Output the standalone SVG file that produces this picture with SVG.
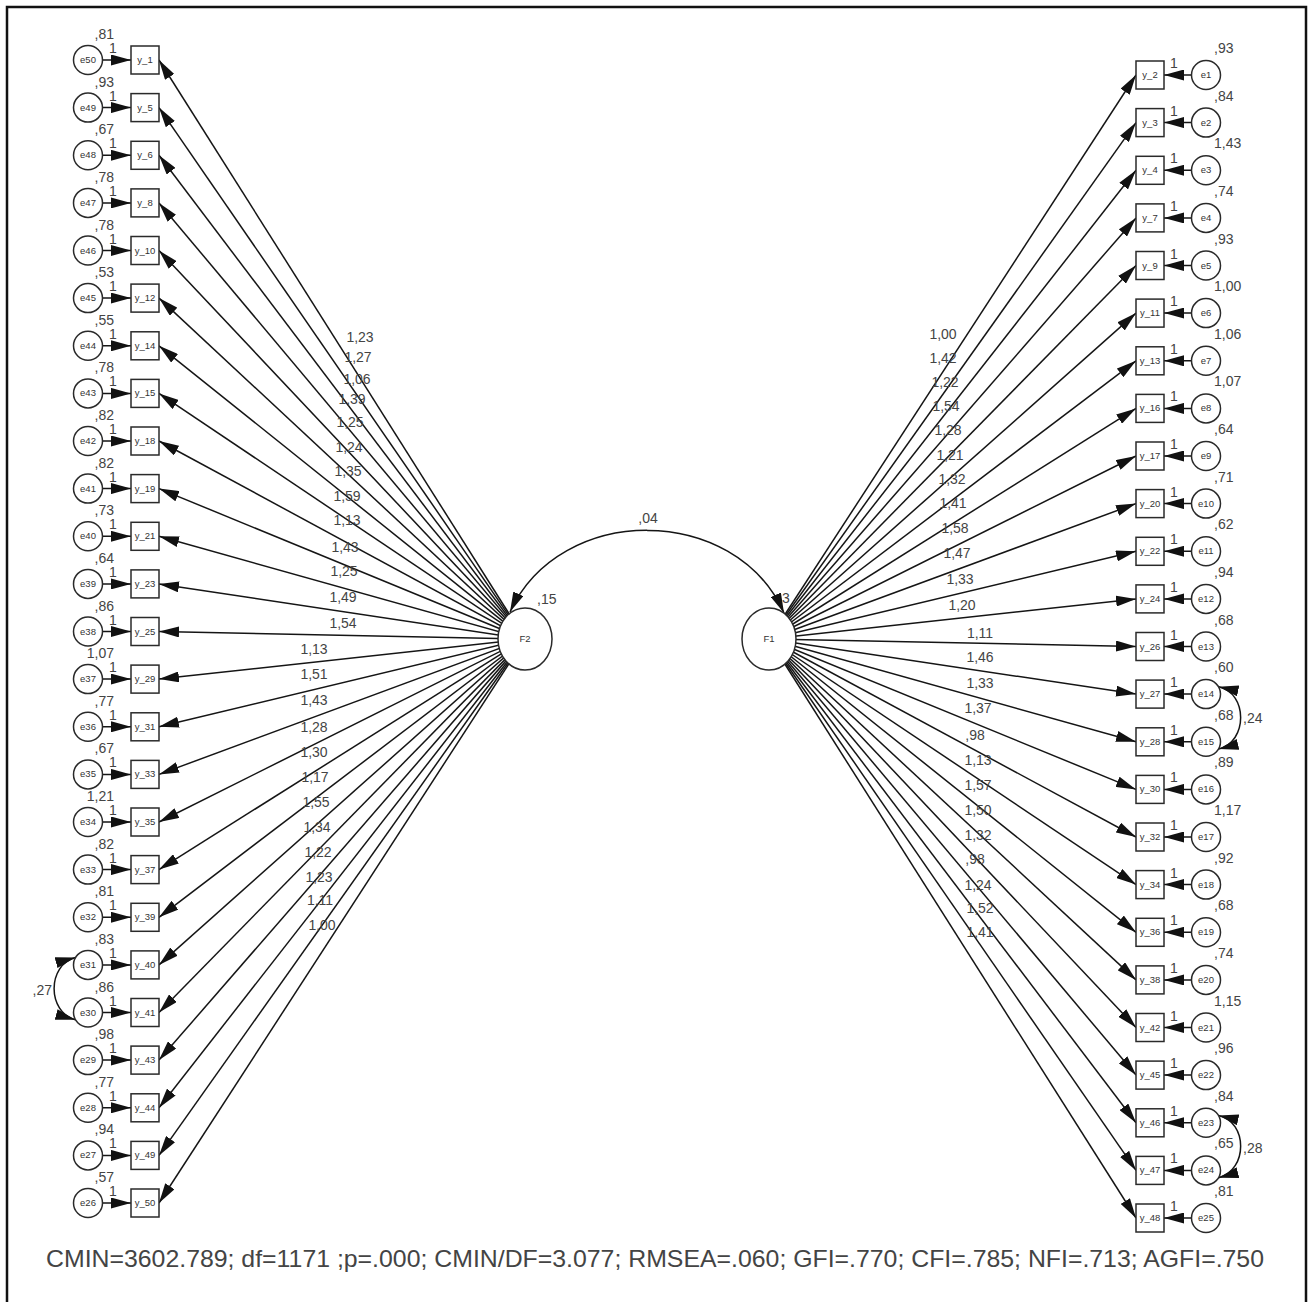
<svg xmlns="http://www.w3.org/2000/svg" width="1309" height="1302" viewBox="0 0 1309 1302">
<style>
.ln{stroke:#151515;stroke-width:1.5;fill:none;marker-end:url(#ah)}
.cv{stroke:#151515;stroke-width:1.5;fill:none;marker-start:url(#ac);marker-end:url(#ac)}
.bx{fill:#fff;stroke:#2a2a2a;stroke-width:1.5}
.ci{fill:#fff;stroke:#2a2a2a;stroke-width:1.5}
text{font-family:"Liberation Sans",Arial,sans-serif;fill:#444}
.s{font-size:9.5px;text-anchor:middle;fill:#333}
.v{font-size:14px}
.ve{font-size:14px;text-anchor:end}
.n{font-size:14px;text-anchor:middle}
.e{font-size:14px;text-anchor:end}
</style>
<defs>
<marker id="ah" viewBox="0 0 20 11" refX="20" refY="5.5" markerWidth="20" markerHeight="11" markerUnits="userSpaceOnUse" orient="auto"><path d="M0,0L20,5.5L0,11z" fill="#111"/></marker>
<marker id="ac" viewBox="0 0 20 11" refX="20" refY="5.5" markerWidth="20" markerHeight="11" markerUnits="userSpaceOnUse" orient="auto-start-reverse"><path d="M0,0L20,5.5L0,11z" fill="#111"/></marker>
</defs>
<rect x="0" y="0" width="1309" height="1302" fill="#fff"/>
<rect x="7" y="7" width="1299" height="1310" fill="none" stroke="#111" stroke-width="2.5"/>
<text class="v" x="778" y="603">,3</text>
<g id="connectors">
<path class="ln" d="M525,639L159,60"/>
<path class="ln" d="M525,639L159,107.6"/>
<path class="ln" d="M525,639L159,155.3"/>
<path class="ln" d="M525,639L159,202.9"/>
<path class="ln" d="M525,639L159,250.5"/>
<path class="ln" d="M525,639L159,298.1"/>
<path class="ln" d="M525,639L159,345.8"/>
<path class="ln" d="M525,639L159,393.4"/>
<path class="ln" d="M525,639L159,441"/>
<path class="ln" d="M525,639L159,488.6"/>
<path class="ln" d="M525,639L159,536.3"/>
<path class="ln" d="M525,639L159,583.9"/>
<path class="ln" d="M525,639L159,631.5"/>
<path class="ln" d="M525,639L159,679.1"/>
<path class="ln" d="M525,639L159,726.8"/>
<path class="ln" d="M525,639L159,774.4"/>
<path class="ln" d="M525,639L159,822"/>
<path class="ln" d="M525,639L159,869.6"/>
<path class="ln" d="M525,639L159,917.3"/>
<path class="ln" d="M525,639L159,964.9"/>
<path class="ln" d="M525,639L159,1012.5"/>
<path class="ln" d="M525,639L159,1060.1"/>
<path class="ln" d="M525,639L159,1107.8"/>
<path class="ln" d="M525,639L159,1155.4"/>
<path class="ln" d="M525,639L159,1203"/>
<path class="ln" d="M769,639L1136,75"/>
<path class="ln" d="M769,639L1136,122.6"/>
<path class="ln" d="M769,639L1136,170.3"/>
<path class="ln" d="M769,639L1136,217.9"/>
<path class="ln" d="M769,639L1136,265.5"/>
<path class="ln" d="M769,639L1136,313.1"/>
<path class="ln" d="M769,639L1136,360.8"/>
<path class="ln" d="M769,639L1136,408.4"/>
<path class="ln" d="M769,639L1136,456"/>
<path class="ln" d="M769,639L1136,503.6"/>
<path class="ln" d="M769,639L1136,551.3"/>
<path class="ln" d="M769,639L1136,598.9"/>
<path class="ln" d="M769,639L1136,646.5"/>
<path class="ln" d="M769,639L1136,694.1"/>
<path class="ln" d="M769,639L1136,741.8"/>
<path class="ln" d="M769,639L1136,789.4"/>
<path class="ln" d="M769,639L1136,837"/>
<path class="ln" d="M769,639L1136,884.6"/>
<path class="ln" d="M769,639L1136,932.3"/>
<path class="ln" d="M769,639L1136,979.9"/>
<path class="ln" d="M769,639L1136,1027.5"/>
<path class="ln" d="M769,639L1136,1075.1"/>
<path class="ln" d="M769,639L1136,1122.8"/>
<path class="ln" d="M769,639L1136,1170.4"/>
<path class="ln" d="M769,639L1136,1218"/>
<path class="ln" d="M88,60L131,60"/>
<path class="ln" d="M88,107.6L131,107.6"/>
<path class="ln" d="M88,155.3L131,155.3"/>
<path class="ln" d="M88,202.9L131,202.9"/>
<path class="ln" d="M88,250.5L131,250.5"/>
<path class="ln" d="M88,298.1L131,298.1"/>
<path class="ln" d="M88,345.8L131,345.8"/>
<path class="ln" d="M88,393.4L131,393.4"/>
<path class="ln" d="M88,441L131,441"/>
<path class="ln" d="M88,488.6L131,488.6"/>
<path class="ln" d="M88,536.3L131,536.3"/>
<path class="ln" d="M88,583.9L131,583.9"/>
<path class="ln" d="M88,631.5L131,631.5"/>
<path class="ln" d="M88,679.1L131,679.1"/>
<path class="ln" d="M88,726.8L131,726.8"/>
<path class="ln" d="M88,774.4L131,774.4"/>
<path class="ln" d="M88,822L131,822"/>
<path class="ln" d="M88,869.6L131,869.6"/>
<path class="ln" d="M88,917.3L131,917.3"/>
<path class="ln" d="M88,964.9L131,964.9"/>
<path class="ln" d="M88,1012.5L131,1012.5"/>
<path class="ln" d="M88,1060.1L131,1060.1"/>
<path class="ln" d="M88,1107.8L131,1107.8"/>
<path class="ln" d="M88,1155.4L131,1155.4"/>
<path class="ln" d="M88,1203L131,1203"/>
<path class="ln" d="M1206,75L1164,75"/>
<path class="ln" d="M1206,122.6L1164,122.6"/>
<path class="ln" d="M1206,170.3L1164,170.3"/>
<path class="ln" d="M1206,217.9L1164,217.9"/>
<path class="ln" d="M1206,265.5L1164,265.5"/>
<path class="ln" d="M1206,313.1L1164,313.1"/>
<path class="ln" d="M1206,360.8L1164,360.8"/>
<path class="ln" d="M1206,408.4L1164,408.4"/>
<path class="ln" d="M1206,456L1164,456"/>
<path class="ln" d="M1206,503.6L1164,503.6"/>
<path class="ln" d="M1206,551.3L1164,551.3"/>
<path class="ln" d="M1206,598.9L1164,598.9"/>
<path class="ln" d="M1206,646.5L1164,646.5"/>
<path class="ln" d="M1206,694.1L1164,694.1"/>
<path class="ln" d="M1206,741.8L1164,741.8"/>
<path class="ln" d="M1206,789.4L1164,789.4"/>
<path class="ln" d="M1206,837L1164,837"/>
<path class="ln" d="M1206,884.6L1164,884.6"/>
<path class="ln" d="M1206,932.3L1164,932.3"/>
<path class="ln" d="M1206,979.9L1164,979.9"/>
<path class="ln" d="M1206,1027.5L1164,1027.5"/>
<path class="ln" d="M1206,1075.1L1164,1075.1"/>
<path class="ln" d="M1206,1122.8L1164,1122.8"/>
<path class="ln" d="M1206,1170.4L1164,1170.4"/>
<path class="ln" d="M1206,1218L1164,1218"/>
<path class="cv" d="M510,612C560,503 735,503 784,613"/>
<path class="cv" d="M75.4,957.6C47,965 47,1012 75.4,1019.8"/>
<path class="cv" d="M1218.6,686.8C1248,693 1248,742 1218.6,749.1"/>
<path class="cv" d="M1218.6,1115.5C1248,1122 1248,1170 1218.6,1177.7"/>
</g>
<g id="path-labels">
<text class="n" x="360" y="342">1,23</text>
<text class="n" x="358" y="362">1,27</text>
<text class="n" x="357" y="384">1,06</text>
<text class="n" x="352" y="404">1,39</text>
<text class="n" x="350" y="427">1,25</text>
<text class="n" x="349" y="452">1,24</text>
<text class="n" x="348" y="476">1,35</text>
<text class="n" x="347" y="501">1,59</text>
<text class="n" x="347" y="525">1,13</text>
<text class="n" x="345" y="552">1,43</text>
<text class="n" x="344" y="576">1,25</text>
<text class="n" x="343" y="602">1,49</text>
<text class="n" x="343" y="628">1,54</text>
<text class="n" x="314" y="654">1,13</text>
<text class="n" x="314" y="679">1,51</text>
<text class="n" x="314" y="705">1,43</text>
<text class="n" x="314" y="732">1,28</text>
<text class="n" x="314" y="757">1,30</text>
<text class="n" x="315" y="782">1,17</text>
<text class="n" x="316" y="807">1,55</text>
<text class="n" x="317" y="832">1,34</text>
<text class="n" x="318" y="857">1,22</text>
<text class="n" x="319" y="882">1,23</text>
<text class="n" x="320" y="905">1,11</text>
<text class="n" x="322" y="930">1,00</text>
<text class="n" x="943" y="339">1,00</text>
<text class="n" x="943" y="363">1,42</text>
<text class="n" x="945" y="387">1,22</text>
<text class="n" x="946" y="411">1,54</text>
<text class="n" x="948" y="435">1,28</text>
<text class="n" x="950" y="460">1,21</text>
<text class="n" x="952" y="484">1,32</text>
<text class="n" x="953" y="508">1,41</text>
<text class="n" x="955" y="533">1,58</text>
<text class="n" x="957" y="558">1,47</text>
<text class="n" x="960" y="584">1,33</text>
<text class="n" x="962" y="610">1,20</text>
<text class="n" x="980" y="638">1,11</text>
<text class="n" x="980" y="662">1,46</text>
<text class="n" x="980" y="688">1,33</text>
<text class="n" x="978" y="713">1,37</text>
<text class="n" x="975" y="740">,98</text>
<text class="n" x="978" y="765">1,13</text>
<text class="n" x="978" y="790">1,57</text>
<text class="n" x="978" y="815">1,50</text>
<text class="n" x="978" y="840">1,32</text>
<text class="n" x="975" y="864">,98</text>
<text class="n" x="978" y="890">1,24</text>
<text class="n" x="980" y="913">1,52</text>
<text class="n" x="980" y="937">1,41</text>
<text class="n" x="113" y="53">1</text>
<text class="n" x="113" y="100.6">1</text>
<text class="n" x="113" y="148.3">1</text>
<text class="n" x="113" y="195.9">1</text>
<text class="n" x="113" y="243.5">1</text>
<text class="n" x="113" y="291.1">1</text>
<text class="n" x="113" y="338.8">1</text>
<text class="n" x="113" y="386.4">1</text>
<text class="n" x="113" y="434">1</text>
<text class="n" x="113" y="481.6">1</text>
<text class="n" x="113" y="529.3">1</text>
<text class="n" x="113" y="576.9">1</text>
<text class="n" x="113" y="624.5">1</text>
<text class="n" x="113" y="672.1">1</text>
<text class="n" x="113" y="719.8">1</text>
<text class="n" x="113" y="767.4">1</text>
<text class="n" x="113" y="815">1</text>
<text class="n" x="113" y="862.6">1</text>
<text class="n" x="113" y="910.3">1</text>
<text class="n" x="113" y="957.9">1</text>
<text class="n" x="113" y="1005.5">1</text>
<text class="n" x="113" y="1053.1">1</text>
<text class="n" x="113" y="1100.8">1</text>
<text class="n" x="113" y="1148.4">1</text>
<text class="n" x="113" y="1196">1</text>
<text class="n" x="1174" y="68">1</text>
<text class="n" x="1174" y="115.6">1</text>
<text class="n" x="1174" y="163.3">1</text>
<text class="n" x="1174" y="210.9">1</text>
<text class="n" x="1174" y="258.5">1</text>
<text class="n" x="1174" y="306.1">1</text>
<text class="n" x="1174" y="353.8">1</text>
<text class="n" x="1174" y="401.4">1</text>
<text class="n" x="1174" y="449">1</text>
<text class="n" x="1174" y="496.6">1</text>
<text class="n" x="1174" y="544.3">1</text>
<text class="n" x="1174" y="591.9">1</text>
<text class="n" x="1174" y="639.5">1</text>
<text class="n" x="1174" y="687.1">1</text>
<text class="n" x="1174" y="734.8">1</text>
<text class="n" x="1174" y="782.4">1</text>
<text class="n" x="1174" y="830">1</text>
<text class="n" x="1174" y="877.6">1</text>
<text class="n" x="1174" y="925.3">1</text>
<text class="n" x="1174" y="972.9">1</text>
<text class="n" x="1174" y="1020.5">1</text>
<text class="n" x="1174" y="1068.1">1</text>
<text class="n" x="1174" y="1115.8">1</text>
<text class="n" x="1174" y="1163.4">1</text>
<text class="n" x="1174" y="1211">1</text>
<text class="n" x="648" y="523">,04</text>
<text class="e" x="52" y="995">,27</text>
<text class="v" x="1243" y="723">,24</text>
<text class="v" x="1243" y="1153">,28</text>
</g>
<g id="F2" transform="translate(525,639)"><ellipse class="ci" rx="27" ry="31"/><text class="s" y="3">F2</text><text class="v" x="12" y="-35">,15</text></g>
<g id="F1" transform="translate(769,639)"><ellipse class="ci" rx="27" ry="31"/><text class="s" y="3">F1</text></g>
<g id="y_1" transform="translate(145,60)"><rect class="bx" x="-14" y="-14" width="28" height="28"/><text class="s" y="3">y_1</text></g>
<g id="y_5" transform="translate(145,107.6)"><rect class="bx" x="-14" y="-14" width="28" height="28"/><text class="s" y="3">y_5</text></g>
<g id="y_6" transform="translate(145,155.3)"><rect class="bx" x="-14" y="-14" width="28" height="28"/><text class="s" y="3">y_6</text></g>
<g id="y_8" transform="translate(145,202.9)"><rect class="bx" x="-14" y="-14" width="28" height="28"/><text class="s" y="3">y_8</text></g>
<g id="y_10" transform="translate(145,250.5)"><rect class="bx" x="-14" y="-14" width="28" height="28"/><text class="s" y="3">y_10</text></g>
<g id="y_12" transform="translate(145,298.1)"><rect class="bx" x="-14" y="-14" width="28" height="28"/><text class="s" y="3">y_12</text></g>
<g id="y_14" transform="translate(145,345.8)"><rect class="bx" x="-14" y="-14" width="28" height="28"/><text class="s" y="3">y_14</text></g>
<g id="y_15" transform="translate(145,393.4)"><rect class="bx" x="-14" y="-14" width="28" height="28"/><text class="s" y="3">y_15</text></g>
<g id="y_18" transform="translate(145,441)"><rect class="bx" x="-14" y="-14" width="28" height="28"/><text class="s" y="3">y_18</text></g>
<g id="y_19" transform="translate(145,488.6)"><rect class="bx" x="-14" y="-14" width="28" height="28"/><text class="s" y="3">y_19</text></g>
<g id="y_21" transform="translate(145,536.3)"><rect class="bx" x="-14" y="-14" width="28" height="28"/><text class="s" y="3">y_21</text></g>
<g id="y_23" transform="translate(145,583.9)"><rect class="bx" x="-14" y="-14" width="28" height="28"/><text class="s" y="3">y_23</text></g>
<g id="y_25" transform="translate(145,631.5)"><rect class="bx" x="-14" y="-14" width="28" height="28"/><text class="s" y="3">y_25</text></g>
<g id="y_29" transform="translate(145,679.1)"><rect class="bx" x="-14" y="-14" width="28" height="28"/><text class="s" y="3">y_29</text></g>
<g id="y_31" transform="translate(145,726.8)"><rect class="bx" x="-14" y="-14" width="28" height="28"/><text class="s" y="3">y_31</text></g>
<g id="y_33" transform="translate(145,774.4)"><rect class="bx" x="-14" y="-14" width="28" height="28"/><text class="s" y="3">y_33</text></g>
<g id="y_35" transform="translate(145,822)"><rect class="bx" x="-14" y="-14" width="28" height="28"/><text class="s" y="3">y_35</text></g>
<g id="y_37" transform="translate(145,869.6)"><rect class="bx" x="-14" y="-14" width="28" height="28"/><text class="s" y="3">y_37</text></g>
<g id="y_39" transform="translate(145,917.3)"><rect class="bx" x="-14" y="-14" width="28" height="28"/><text class="s" y="3">y_39</text></g>
<g id="y_40" transform="translate(145,964.9)"><rect class="bx" x="-14" y="-14" width="28" height="28"/><text class="s" y="3">y_40</text></g>
<g id="y_41" transform="translate(145,1012.5)"><rect class="bx" x="-14" y="-14" width="28" height="28"/><text class="s" y="3">y_41</text></g>
<g id="y_43" transform="translate(145,1060.1)"><rect class="bx" x="-14" y="-14" width="28" height="28"/><text class="s" y="3">y_43</text></g>
<g id="y_44" transform="translate(145,1107.8)"><rect class="bx" x="-14" y="-14" width="28" height="28"/><text class="s" y="3">y_44</text></g>
<g id="y_49" transform="translate(145,1155.4)"><rect class="bx" x="-14" y="-14" width="28" height="28"/><text class="s" y="3">y_49</text></g>
<g id="y_50" transform="translate(145,1203)"><rect class="bx" x="-14" y="-14" width="28" height="28"/><text class="s" y="3">y_50</text></g>
<g id="e50" transform="translate(88,60)"><circle class="ci" r="14.5"/><text class="s" y="3">e50</text><text class="ve" x="26" y="-21">,81</text></g>
<g id="e49" transform="translate(88,107.6)"><circle class="ci" r="14.5"/><text class="s" y="3">e49</text><text class="ve" x="26" y="-21">,93</text></g>
<g id="e48" transform="translate(88,155.3)"><circle class="ci" r="14.5"/><text class="s" y="3">e48</text><text class="ve" x="26" y="-21">,67</text></g>
<g id="e47" transform="translate(88,202.9)"><circle class="ci" r="14.5"/><text class="s" y="3">e47</text><text class="ve" x="26" y="-21">,78</text></g>
<g id="e46" transform="translate(88,250.5)"><circle class="ci" r="14.5"/><text class="s" y="3">e46</text><text class="ve" x="26" y="-21">,78</text></g>
<g id="e45" transform="translate(88,298.1)"><circle class="ci" r="14.5"/><text class="s" y="3">e45</text><text class="ve" x="26" y="-21">,53</text></g>
<g id="e44" transform="translate(88,345.8)"><circle class="ci" r="14.5"/><text class="s" y="3">e44</text><text class="ve" x="26" y="-21">,55</text></g>
<g id="e43" transform="translate(88,393.4)"><circle class="ci" r="14.5"/><text class="s" y="3">e43</text><text class="ve" x="26" y="-21">,78</text></g>
<g id="e42" transform="translate(88,441)"><circle class="ci" r="14.5"/><text class="s" y="3">e42</text><text class="ve" x="26" y="-21">,82</text></g>
<g id="e41" transform="translate(88,488.6)"><circle class="ci" r="14.5"/><text class="s" y="3">e41</text><text class="ve" x="26" y="-21">,82</text></g>
<g id="e40" transform="translate(88,536.3)"><circle class="ci" r="14.5"/><text class="s" y="3">e40</text><text class="ve" x="26" y="-21">,73</text></g>
<g id="e39" transform="translate(88,583.9)"><circle class="ci" r="14.5"/><text class="s" y="3">e39</text><text class="ve" x="26" y="-21">,64</text></g>
<g id="e38" transform="translate(88,631.5)"><circle class="ci" r="14.5"/><text class="s" y="3">e38</text><text class="ve" x="26" y="-21">,86</text></g>
<g id="e37" transform="translate(88,679.1)"><circle class="ci" r="14.5"/><text class="s" y="3">e37</text><text class="ve" x="26" y="-21">1,07</text></g>
<g id="e36" transform="translate(88,726.8)"><circle class="ci" r="14.5"/><text class="s" y="3">e36</text><text class="ve" x="26" y="-21">,77</text></g>
<g id="e35" transform="translate(88,774.4)"><circle class="ci" r="14.5"/><text class="s" y="3">e35</text><text class="ve" x="26" y="-21">,67</text></g>
<g id="e34" transform="translate(88,822)"><circle class="ci" r="14.5"/><text class="s" y="3">e34</text><text class="ve" x="26" y="-21">1,21</text></g>
<g id="e33" transform="translate(88,869.6)"><circle class="ci" r="14.5"/><text class="s" y="3">e33</text><text class="ve" x="26" y="-21">,82</text></g>
<g id="e32" transform="translate(88,917.3)"><circle class="ci" r="14.5"/><text class="s" y="3">e32</text><text class="ve" x="26" y="-21">,81</text></g>
<g id="e31" transform="translate(88,964.9)"><circle class="ci" r="14.5"/><text class="s" y="3">e31</text><text class="ve" x="26" y="-21">,83</text></g>
<g id="e30" transform="translate(88,1012.5)"><circle class="ci" r="14.5"/><text class="s" y="3">e30</text><text class="ve" x="26" y="-21">,86</text></g>
<g id="e29" transform="translate(88,1060.1)"><circle class="ci" r="14.5"/><text class="s" y="3">e29</text><text class="ve" x="26" y="-21">,98</text></g>
<g id="e28" transform="translate(88,1107.8)"><circle class="ci" r="14.5"/><text class="s" y="3">e28</text><text class="ve" x="26" y="-21">,77</text></g>
<g id="e27" transform="translate(88,1155.4)"><circle class="ci" r="14.5"/><text class="s" y="3">e27</text><text class="ve" x="26" y="-21">,94</text></g>
<g id="e26" transform="translate(88,1203)"><circle class="ci" r="14.5"/><text class="s" y="3">e26</text><text class="ve" x="26" y="-21">,57</text></g>
<g id="y_2" transform="translate(1150,75)"><rect class="bx" x="-14" y="-14" width="28" height="28"/><text class="s" y="3">y_2</text></g>
<g id="y_3" transform="translate(1150,122.6)"><rect class="bx" x="-14" y="-14" width="28" height="28"/><text class="s" y="3">y_3</text></g>
<g id="y_4" transform="translate(1150,170.3)"><rect class="bx" x="-14" y="-14" width="28" height="28"/><text class="s" y="3">y_4</text></g>
<g id="y_7" transform="translate(1150,217.9)"><rect class="bx" x="-14" y="-14" width="28" height="28"/><text class="s" y="3">y_7</text></g>
<g id="y_9" transform="translate(1150,265.5)"><rect class="bx" x="-14" y="-14" width="28" height="28"/><text class="s" y="3">y_9</text></g>
<g id="y_11" transform="translate(1150,313.1)"><rect class="bx" x="-14" y="-14" width="28" height="28"/><text class="s" y="3">y_11</text></g>
<g id="y_13" transform="translate(1150,360.8)"><rect class="bx" x="-14" y="-14" width="28" height="28"/><text class="s" y="3">y_13</text></g>
<g id="y_16" transform="translate(1150,408.4)"><rect class="bx" x="-14" y="-14" width="28" height="28"/><text class="s" y="3">y_16</text></g>
<g id="y_17" transform="translate(1150,456)"><rect class="bx" x="-14" y="-14" width="28" height="28"/><text class="s" y="3">y_17</text></g>
<g id="y_20" transform="translate(1150,503.6)"><rect class="bx" x="-14" y="-14" width="28" height="28"/><text class="s" y="3">y_20</text></g>
<g id="y_22" transform="translate(1150,551.3)"><rect class="bx" x="-14" y="-14" width="28" height="28"/><text class="s" y="3">y_22</text></g>
<g id="y_24" transform="translate(1150,598.9)"><rect class="bx" x="-14" y="-14" width="28" height="28"/><text class="s" y="3">y_24</text></g>
<g id="y_26" transform="translate(1150,646.5)"><rect class="bx" x="-14" y="-14" width="28" height="28"/><text class="s" y="3">y_26</text></g>
<g id="y_27" transform="translate(1150,694.1)"><rect class="bx" x="-14" y="-14" width="28" height="28"/><text class="s" y="3">y_27</text></g>
<g id="y_28" transform="translate(1150,741.8)"><rect class="bx" x="-14" y="-14" width="28" height="28"/><text class="s" y="3">y_28</text></g>
<g id="y_30" transform="translate(1150,789.4)"><rect class="bx" x="-14" y="-14" width="28" height="28"/><text class="s" y="3">y_30</text></g>
<g id="y_32" transform="translate(1150,837)"><rect class="bx" x="-14" y="-14" width="28" height="28"/><text class="s" y="3">y_32</text></g>
<g id="y_34" transform="translate(1150,884.6)"><rect class="bx" x="-14" y="-14" width="28" height="28"/><text class="s" y="3">y_34</text></g>
<g id="y_36" transform="translate(1150,932.3)"><rect class="bx" x="-14" y="-14" width="28" height="28"/><text class="s" y="3">y_36</text></g>
<g id="y_38" transform="translate(1150,979.9)"><rect class="bx" x="-14" y="-14" width="28" height="28"/><text class="s" y="3">y_38</text></g>
<g id="y_42" transform="translate(1150,1027.5)"><rect class="bx" x="-14" y="-14" width="28" height="28"/><text class="s" y="3">y_42</text></g>
<g id="y_45" transform="translate(1150,1075.1)"><rect class="bx" x="-14" y="-14" width="28" height="28"/><text class="s" y="3">y_45</text></g>
<g id="y_46" transform="translate(1150,1122.8)"><rect class="bx" x="-14" y="-14" width="28" height="28"/><text class="s" y="3">y_46</text></g>
<g id="y_47" transform="translate(1150,1170.4)"><rect class="bx" x="-14" y="-14" width="28" height="28"/><text class="s" y="3">y_47</text></g>
<g id="y_48" transform="translate(1150,1218)"><rect class="bx" x="-14" y="-14" width="28" height="28"/><text class="s" y="3">y_48</text></g>
<g id="e1" transform="translate(1206,75)"><circle class="ci" r="14.5"/><text class="s" y="3">e1</text><text class="v" x="8" y="-22">,93</text></g>
<g id="e2" transform="translate(1206,122.6)"><circle class="ci" r="14.5"/><text class="s" y="3">e2</text><text class="v" x="8" y="-22">,84</text></g>
<g id="e3" transform="translate(1206,170.3)"><circle class="ci" r="14.5"/><text class="s" y="3">e3</text><text class="v" x="8" y="-22">1,43</text></g>
<g id="e4" transform="translate(1206,217.9)"><circle class="ci" r="14.5"/><text class="s" y="3">e4</text><text class="v" x="8" y="-22">,74</text></g>
<g id="e5" transform="translate(1206,265.5)"><circle class="ci" r="14.5"/><text class="s" y="3">e5</text><text class="v" x="8" y="-22">,93</text></g>
<g id="e6" transform="translate(1206,313.1)"><circle class="ci" r="14.5"/><text class="s" y="3">e6</text><text class="v" x="8" y="-22">1,00</text></g>
<g id="e7" transform="translate(1206,360.8)"><circle class="ci" r="14.5"/><text class="s" y="3">e7</text><text class="v" x="8" y="-22">1,06</text></g>
<g id="e8" transform="translate(1206,408.4)"><circle class="ci" r="14.5"/><text class="s" y="3">e8</text><text class="v" x="8" y="-22">1,07</text></g>
<g id="e9" transform="translate(1206,456)"><circle class="ci" r="14.5"/><text class="s" y="3">e9</text><text class="v" x="8" y="-22">,64</text></g>
<g id="e10" transform="translate(1206,503.6)"><circle class="ci" r="14.5"/><text class="s" y="3">e10</text><text class="v" x="8" y="-22">,71</text></g>
<g id="e11" transform="translate(1206,551.3)"><circle class="ci" r="14.5"/><text class="s" y="3">e11</text><text class="v" x="8" y="-22">,62</text></g>
<g id="e12" transform="translate(1206,598.9)"><circle class="ci" r="14.5"/><text class="s" y="3">e12</text><text class="v" x="8" y="-22">,94</text></g>
<g id="e13" transform="translate(1206,646.5)"><circle class="ci" r="14.5"/><text class="s" y="3">e13</text><text class="v" x="8" y="-22">,68</text></g>
<g id="e14" transform="translate(1206,694.1)"><circle class="ci" r="14.5"/><text class="s" y="3">e14</text><text class="v" x="8" y="-22">,60</text></g>
<g id="e15" transform="translate(1206,741.8)"><circle class="ci" r="14.5"/><text class="s" y="3">e15</text><text class="v" x="8" y="-22">,68</text></g>
<g id="e16" transform="translate(1206,789.4)"><circle class="ci" r="14.5"/><text class="s" y="3">e16</text><text class="v" x="8" y="-22">,89</text></g>
<g id="e17" transform="translate(1206,837)"><circle class="ci" r="14.5"/><text class="s" y="3">e17</text><text class="v" x="8" y="-22">1,17</text></g>
<g id="e18" transform="translate(1206,884.6)"><circle class="ci" r="14.5"/><text class="s" y="3">e18</text><text class="v" x="8" y="-22">,92</text></g>
<g id="e19" transform="translate(1206,932.3)"><circle class="ci" r="14.5"/><text class="s" y="3">e19</text><text class="v" x="8" y="-22">,68</text></g>
<g id="e20" transform="translate(1206,979.9)"><circle class="ci" r="14.5"/><text class="s" y="3">e20</text><text class="v" x="8" y="-22">,74</text></g>
<g id="e21" transform="translate(1206,1027.5)"><circle class="ci" r="14.5"/><text class="s" y="3">e21</text><text class="v" x="8" y="-22">1,15</text></g>
<g id="e22" transform="translate(1206,1075.1)"><circle class="ci" r="14.5"/><text class="s" y="3">e22</text><text class="v" x="8" y="-22">,96</text></g>
<g id="e23" transform="translate(1206,1122.8)"><circle class="ci" r="14.5"/><text class="s" y="3">e23</text><text class="v" x="8" y="-22">,84</text></g>
<g id="e24" transform="translate(1206,1170.4)"><circle class="ci" r="14.5"/><text class="s" y="3">e24</text><text class="v" x="8" y="-22">,65</text></g>
<g id="e25" transform="translate(1206,1218)"><circle class="ci" r="14.5"/><text class="s" y="3">e25</text><text class="v" x="8" y="-22">,81</text></g>
<text x="46" y="1267" font-size="24" textLength="1218" lengthAdjust="spacingAndGlyphs" fill="#3a3a3a">CMIN=3602.789; df=1171 ;p=.000; CMIN/DF=3.077; RMSEA=.060; GFI=.770; CFI=.785; NFI=.713; AGFI=.750</text>
</svg>
